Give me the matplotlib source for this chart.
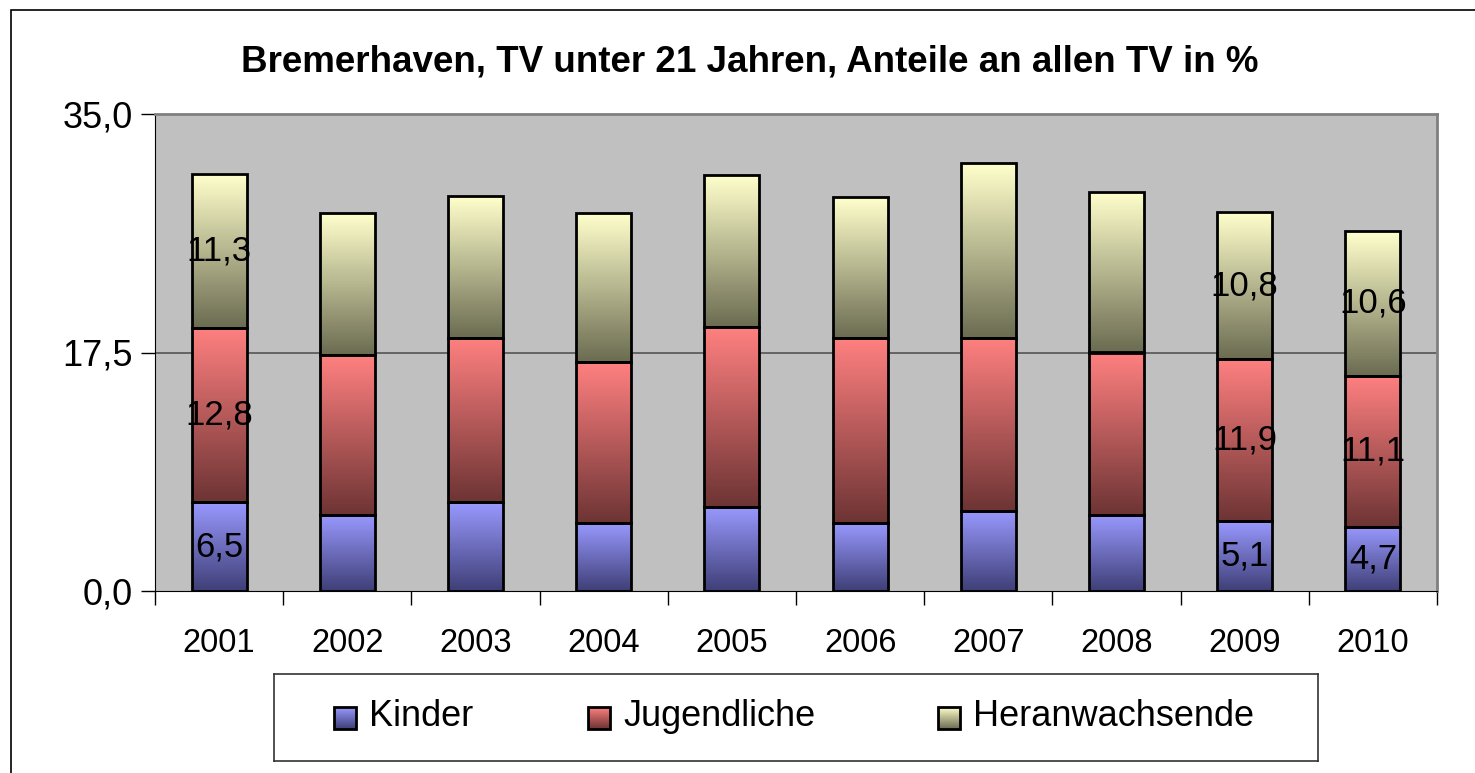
import numpy as np
import matplotlib.pyplot as plt
from matplotlib.patches import Rectangle
from matplotlib.colors import LinearSegmentedColormap

plt.rcParams['font.family'] = ['Liberation Sans', 'DejaVu Sans']

years = ['2001', '2002', '2003', '2004', '2005', '2006', '2007', '2008', '2009', '2010']
kinder = [6.5, 5.6, 6.5, 5.0, 6.2, 5.0, 5.9, 5.6, 5.1, 4.7]
jugendliche = [12.8, 11.7, 12.1, 11.8, 13.2, 13.6, 12.7, 11.9, 11.9, 11.1]
heranwachsende = [11.3, 10.4, 10.4, 10.9, 11.1, 10.3, 12.8, 11.8, 10.8, 10.6]
series_names = ['Kinder', 'Jugendliche', 'Heranwachsende']
# labels only shown for some bars
label_years = ['2001', '2009', '2010']

# (top colour, bottom colour) of each gradient
grads = [('#9999ff', '#3f3f78'), ('#ff8080', '#6e3434'), ('#ffffcc', '#6c6c52')]

fig = plt.figure(figsize=(14.75, 7.73), dpi=100)
fig.patch.set_facecolor('white')
fig.add_artist(Rectangle((11 / 1475, -0.01), 1.0, 1 - 10 / 773 + 0.01,
                         transform=fig.transFigure, fill=False,
                         edgecolor='black', linewidth=1.2))

ax = fig.add_axes([155 / 1475, 1 - 591 / 773, (1437 - 155) / 1475, (591 - 114) / 773])
ax.set_facecolor('#c0c0c0')

x = np.arange(len(years))
w = 0.43

def grad_bar(xc, bottom, height, top_col, bot_col):
    cmap = LinearSegmentedColormap.from_list('g', [bot_col, top_col])
    img = np.linspace(0, 1, 100).reshape(-1, 1)
    ax.imshow(img, cmap=cmap, origin='lower', aspect='auto', interpolation='bilinear',
              extent=(xc - w / 2, xc + w / 2, bottom, bottom + height), zorder=2)
    ax.add_patch(Rectangle((xc - w / 2, bottom), w, height, fill=False,
                           edgecolor='black', linewidth=2, zorder=3))

bottom = np.zeros(len(years))
for vals, (tc, bc) in zip([kinder, jugendliche, heranwachsende], grads):
    for i, v in enumerate(vals):
        grad_bar(x[i], bottom[i], v, tc, bc)
        if years[i] in label_years:
            ax.text(x[i], bottom[i] + v / 2, f'{v:.1f}'.replace('.', ','),
                    ha='center', va='center', fontsize=25, zorder=4)
    bottom += np.array(vals)

ax.set_xlim(-0.5, len(years) - 0.5)
ax.set_ylim(0, 35)
ax.axhline(17.5, color='#555555', linewidth=1.2, zorder=1)

ax.set_yticks([0, 17.5, 35])
ax.set_yticklabels(['0,0', '17,5', '35,0'], fontsize=26)
ax.set_xticks(x)
ax.set_xticklabels(years, fontsize=23.5)
ax.set_xticks(np.arange(-0.5, len(years), 1), minor=True)
ax.tick_params(axis='x', which='major', length=0, pad=27)
ax.tick_params(axis='x', which='minor', length=10, width=1, direction='out')
ax.tick_params(axis='y', length=10, width=1, direction='out', pad=6)

ax.spines['left'].set_color('black')
ax.spines['bottom'].set_color('black')
ax.spines['top'].set_color('#808080')
ax.spines['right'].set_color('#808080')
ax.spines['top'].set_linewidth(2)
ax.spines['right'].set_linewidth(2)

fig.text(750 / 1475, 1 - 62 / 773, 'Bremerhaven, TV unter 21 Jahren, Anteile an allen TV in %',
         ha='center', va='center', fontsize=26.5, fontweight='bold')

# legend
lax = fig.add_axes([274 / 1475, 1 - 761 / 773, (1318 - 274) / 1475, (761 - 674) / 773])
lax.set_xticks([])
lax.set_yticks([])
for s in lax.spines.values():
    s.set_color('#333333')
    s.set_linewidth(1.2)
leg_x = [60, 314, 664]
for name, (tc, bc), lx in zip(series_names, grads, leg_x):
    cmap = LinearSegmentedColormap.from_list('g', [bc, tc])
    lax.imshow(np.linspace(0, 1, 50).reshape(-1, 1), cmap=cmap, origin='lower',
               aspect='auto', extent=(lx, lx + 22, 32, 54))
    lax.add_patch(Rectangle((lx, 32), 22, 22, fill=False, edgecolor='black', linewidth=2))
    lax.text(lx + 35, 44, name, ha='left', va='center', fontsize=26)
lax.set_xlim(0, 1044)
lax.set_ylim(0, 87)

fig.savefig('out.png', dpi=100)
